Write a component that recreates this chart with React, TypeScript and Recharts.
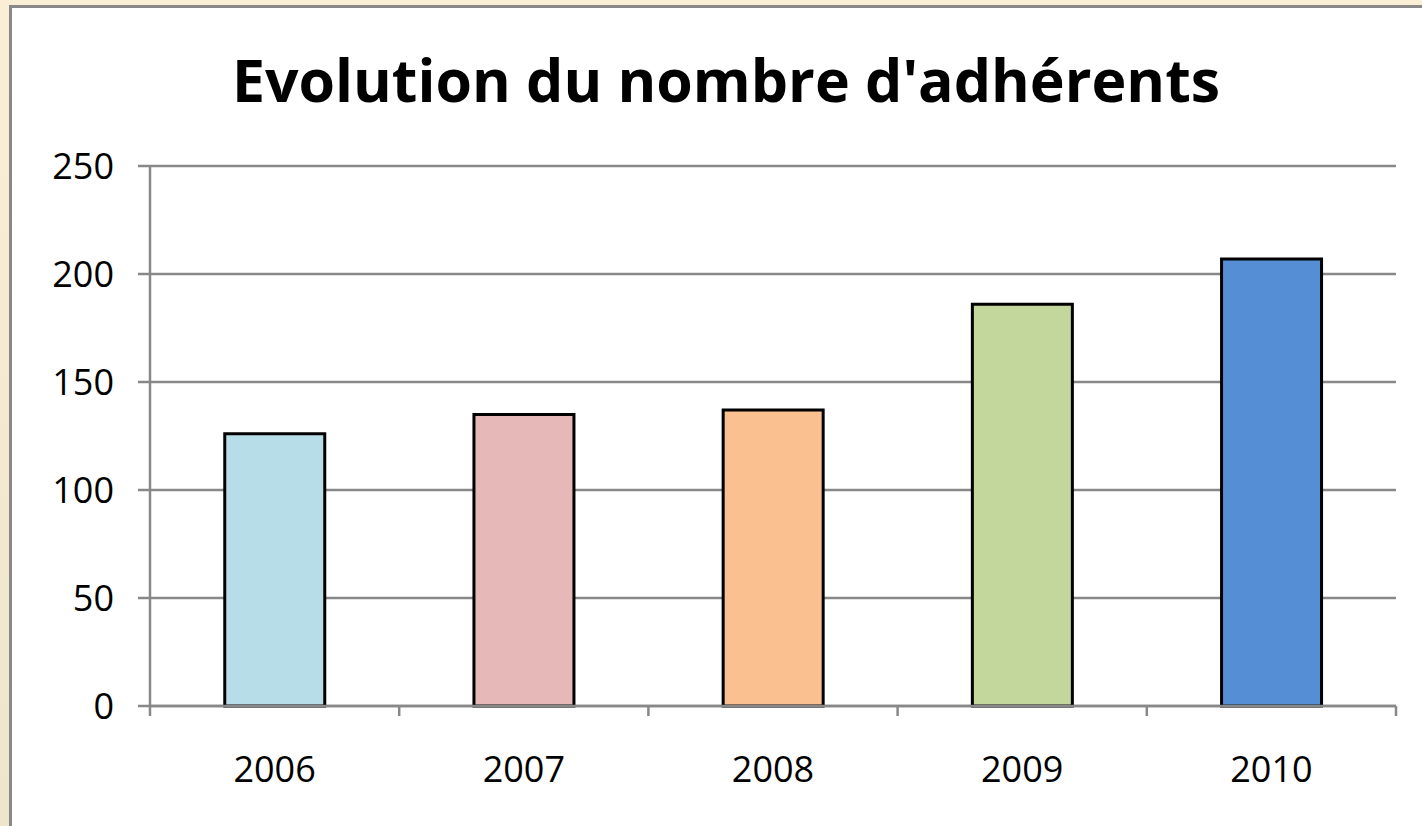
import React from "react";
import { BarChart, Bar, XAxis, YAxis, CartesianGrid, Cell } from "recharts";

const years = ["2006", "2007", "2008", "2009", "2010"];
const members = [126, 135, 137, 186, 207];
const barColors = ["#B7DDE8", "#E6B9B8", "#FAC090", "#C3D69B", "#558ED5"];
const yTicks = [0, 50, 100, 150, 200, 250];

const data = years.map((y, i) => ({ year: y, value: members[i] }));

const FONT = "'Open Sans', sans-serif";
const X_TICK_MARGIN = 50;
const AXIS_GRAY = "#888888";

function CategoryTick(props: any) {
  const { x, y, payload, index, visibleTicksCount } = props;
  const half = payload && payload.offset ? payload.offset : 0;
  const axisY = y - X_TICK_MARGIN;
  const isLast = index === visibleTicksCount - 1;
  return (
    <g>
      <line
        x1={x - half}
        x2={x - half}
        y1={axisY}
        y2={axisY + 10}
        stroke={AXIS_GRAY}
        strokeWidth={2.5}
      />
      {isLast && (
        <line
          x1={x + half}
          x2={x + half}
          y1={axisY}
          y2={axisY + 10}
          stroke={AXIS_GRAY}
          strokeWidth={2.5}
        />
      )}
      <text
        x={x}
        y={y}
        dy="0.71em"
        textAnchor="middle"
        fill="#000"
        fontFamily={FONT}
        fontSize={36}
      >
        {payload.value}
      </text>
    </g>
  );
}

export default function App() {
  return (
    <div
      style={{
        position: "absolute",
        left: 0,
        top: 0,
        width: 1422,
        height: 826,
        overflow: "hidden",
        background: "linear-gradient(#FBEED6, #EEE5CB)",
      }}
    >
      <div
        style={{
          position: "absolute",
          left: 9,
          top: 5,
          width: 1440,
          height: 860,
          border: "3px solid #888888",
          background: "#FFFFFF",
        }}
      />
      <div
        style={{
          position: "absolute",
          left: 0,
          top: 42,
          width: 1452,
          textAlign: "center",
          fontFamily: FONT,
          fontWeight: 700,
          fontSize: 59,
          lineHeight: "74px",
          color: "#000",
        }}
      >
        Evolution du nombre d'adhérents
      </div>
      <div style={{ position: "absolute", left: 0, top: 0 }}>
        <BarChart
          width={1422}
          height={826}
          data={data}
          margin={{ top: 166, right: 26, bottom: 60, left: 0 }}
          barCategoryGap="30%"
        >
          <CartesianGrid
            horizontal={true}
            vertical={false}
            stroke={AXIS_GRAY}
            strokeWidth={2.5}
          />
          <XAxis
            dataKey="year"
            height={60}
            axisLine={{ stroke: AXIS_GRAY, strokeWidth: 2.5 }}
            tickLine={false}
            tickSize={0}
            tickMargin={X_TICK_MARGIN}
            tick={<CategoryTick />}
          />
          <YAxis
            width={150}
            domain={[0, 250]}
            ticks={yTicks}
            axisLine={{ stroke: AXIS_GRAY, strokeWidth: 2.5 }}
            tickLine={{ stroke: AXIS_GRAY, strokeWidth: 2.5 }}
            tickSize={12}
            tickMargin={24}
            tick={{ fill: "#000", fontFamily: FONT, fontSize: 36 }}
          />
          <Bar
            dataKey="value"
            stroke="#000000"
            strokeWidth={3}
            isAnimationActive={false}
          >
            {data.map((d, i) => (
              <Cell key={d.year} fill={barColors[i]} />
            ))}
          </Bar>
        </BarChart>
      </div>
    </div>
  );
}
